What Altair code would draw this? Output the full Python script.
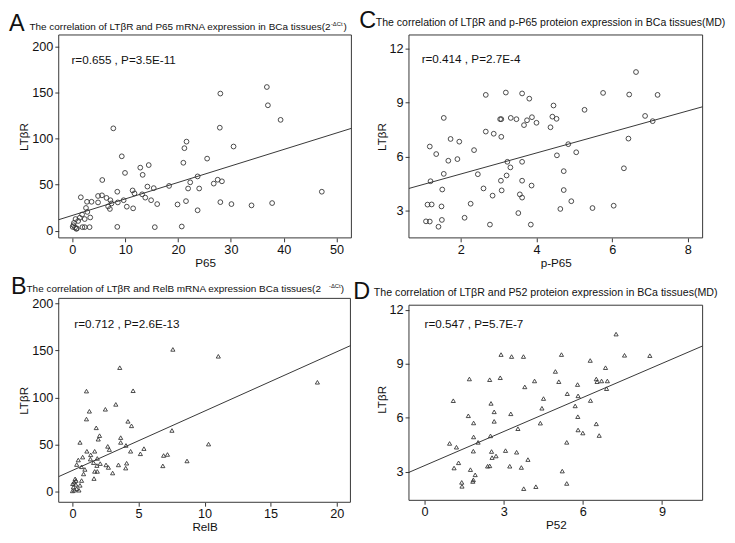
import altair as alt
import pandas as pd

# ---------------- Panel A: LTβR vs P65 mRNA ----------------
a_x = [36.8, 28.0, 37.0, 39.4, 7.75, 27.9, 21.6, 21.2, 30.5, 9.35, 25.5, 21.0, 12.85, 14.45, 9.96, 13.3,
       5.66, 23.7, 27.5, 28.3, 26.75, 22.3, 18.3, 14.2, 15.4, 21.9, 24.0, 47.2, 8.5, 11.4, 11.75, 13.2,
       1.6, 4.86, 5.6, 6.46, 7.2, 7.4, 13.8, 14.9, 16.05, 9.7, 8.6, 2.77, 3.63, 4.86, 6.77, 7.1, 10.3,
       11.5, 19.9, 21.5, 28.0, 30.1, 33.9, 37.8, 23.7, 2.58, 2.83, 1.84, 3.38, 1.41, 2.34, 0.6, 1.1,
       0.3, 0.2, 0.5, 0.86, 1.9, 2.34, 3.26, 8.5, 15.6, 20.7, 0.06, 0.74]
a_y = [155.8, 148.7, 136.0, 120.2, 111.0, 111.7, 96.6, 89.5, 91.3, 80.7, 78.2, 73.7, 68.4, 71.2, 62.7, 60.6,
       55.0, 58.9, 55.3, 53.6, 51.1, 52.5, 48.6, 47.9, 46.2, 45.8, 45.8, 42.3, 42.3, 43.7, 40.5, 39.5,
       36.3, 37.7, 38.4, 35.6, 33.1, 29.6, 35.9, 33.1, 28.9, 33.1, 30.7, 31.4, 31.4, 30.7, 26.4, 23.6, 26.1,
       24.3, 28.5, 32.1, 31.0, 28.9, 27.5, 30.0, 22.2, 24.7, 20.4, 17.6, 14.4, 14.1, 12.7, 12.7, 10.6,
       8.5, 6.0, 3.5, 2.5, 3.9, 3.9, 3.9, 4.2, 3.9, 4.6, 4.2, 2.1]
a_line_x = [-2.58, 52.8]
a_line_y = [12.0, 111.0]

# ---------------- Panel B: LTβR vs RelB mRNA ----------------
b_x = [7.6, 11.04, 18.54, 3.58, 1.06, 4.59, 3.28, 1.28, 2.49, 1.06, 4.2, 4.47, 7.53, 1.8, 2.05, 1.95,
       3.65, 3.65, 0.57, 10.3, 2.67, 2.79, 4.05, 4.4, 5.41, 5.14, 1.09, 1.68, 0.77, 1.38, 1.36, 1.88,
       0.44, 0.32, 0.69, 0.94, 0.84, 1.6, 2.1, 1.85, 2.54, 2.72, 1.68, 1.88, 3.04, 3.48, 4.1, 4.03,
       6.9, 7.19, 6.84, 8.67, 1.63, 0.69, 0.2, 0.12, 0.25, 0.07, 0.32, 0.49, 0.0, 0.15, 0.27, 0.57, 0.02]
b_y = [151.0, 143.7, 116.1, 131.6, 106.7, 107.1, 92.6, 85.3, 87.4, 77.0, 74.6, 69.8, 64.9, 67.7, 59.4, 55.6,
       57.3, 52.2, 52.2, 50.4, 48.0, 44.6, 49.0, 42.8, 45.6, 40.1, 42.8, 42.8, 36.6, 39.0, 34.5, 35.2,
       33.5, 28.7, 26.3, 23.5, 18.7, 30.7, 29.7, 27.6, 28.3, 25.6, 21.4, 21.4, 19.7, 28.3, 30.1, 24.9,
       38.3, 39.4, 27.3, 32.5, 13.8, 11.7, 13.5, 10.0, 7.6, 4.8, 3.1, 1.4, 0.7, 1.4, 11.7, 6.6, 8.3]
b_line_x = [-1.04, 21.04]
b_line_y = [15.9, 155.0]

# ---------------- Panel C: LTβR vs p-P65 protein ----------------
c_x = [6.63, 2.66, 3.19, 3.62, 3.81, 5.76, 6.45, 7.2, 4.45, 5.27, 1.55, 3.07, 3.04, 3.32, 3.47, 3.75,
       3.88, 3.67, 4.0, 4.42, 4.53, 4.37, 6.87, 7.07, 2.66, 2.87, 3.07, 1.73, 1.96, 1.18, 6.43, 4.84,
       2.35, 1.35, 5.05, 4.54, 1.67, 1.91, 3.23, 3.62, 3.31, 3.21, 1.55, 2.45, 4.72, 6.31, 1.2, 3.06,
       3.62, 3.87, 1.51, 2.6, 3.08, 3.56, 3.62, 2.84, 4.72, 4.92, 2.26, 1.12, 1.23, 1.49, 4.63, 5.48,
       6.04, 3.52, 2.1, 1.08, 1.18, 1.5, 1.41, 2.77, 3.85]
c_y = [10.70, 9.43, 9.56, 9.51, 9.22, 9.54, 9.45, 9.43, 8.84, 8.60, 8.15, 8.08, 8.08, 8.15, 8.08, 8.02,
       8.19, 7.75, 7.88, 8.22, 8.10, 7.63, 8.26, 7.97, 7.39, 7.27, 7.10, 6.98, 6.83, 6.56, 7.00, 6.69,
       6.36, 6.14, 6.24, 6.07, 5.77, 5.86, 5.71, 5.71, 5.40, 4.95, 5.04, 5.02, 5.19, 5.35, 4.63, 4.66,
       4.66, 4.39, 4.17, 4.23, 4.12, 3.90, 3.72, 3.83, 4.14, 3.52, 3.38, 3.33, 3.34, 3.23, 3.09, 3.14,
       3.27, 2.86, 2.60, 2.40, 2.39, 2.48, 2.10, 2.22, 2.22]
c_line_x = [0.63, 8.39]
c_line_y = [4.23, 8.77]

# ---------------- Panel D: LTβR vs P52 protein ----------------
d_x = [7.26, 2.9, 3.3, 3.75, 5.19, 7.58, 8.54, 6.28, 6.86, 4.96, 1.7, 2.47, 2.87, 4.17, 5.09, 5.8,
       6.51, 6.54, 6.71, 6.93, 6.9, 3.8, 5.41, 5.82, 6.29, 4.51, 1.09, 2.52, 5.71, 4.45, 2.64, 3.27,
       1.66, 5.81, 1.86, 2.64, 4.39, 6.51, 3.54, 5.82, 6.0, 6.62, 1.86, 2.5, 2.03, 0.95, 1.21, 5.39,
       1.85, 2.54, 3.07, 3.49, 2.56, 2.71, 3.92, 1.29, 1.12, 1.74, 1.92, 1.85, 1.83, 2.39, 2.47, 3.23,
       3.67, 5.22, 5.39, 1.41, 1.42, 3.76, 4.22]
d_y = [10.66, 9.52, 9.41, 9.41, 9.52, 9.48, 9.46, 9.19, 8.79, 8.58, 8.16, 8.12, 8.23, 8.05, 8.01, 7.85,
       8.16, 8.01, 8.05, 8.05, 7.62, 7.72, 7.34, 7.22, 6.96, 7.07, 6.95, 6.80, 6.66, 6.53, 6.33, 6.22,
       6.11, 6.06, 5.71, 5.80, 5.70, 5.66, 5.39, 5.32, 5.15, 5.01, 4.93, 4.99, 4.63, 4.57, 4.36, 4.63,
       4.14, 4.12, 4.17, 4.08, 3.78, 3.87, 3.67, 3.49, 3.20, 3.11, 2.82, 2.54, 2.45, 3.30, 3.32, 3.30,
       3.23, 3.03, 2.34, 2.40, 2.18, 2.05, 2.16]
d_line_x = [-0.59, 10.54]
d_line_y = [2.96, 10.0]

FONT = "Liberation Sans"
INK = "#333333"


def panel(xs, ys, lx, ly, xdom, ydom, xvals, yvals, xtitle, shape, w, h,
          letter, letter_pos, title_parts, ann, ann_pos, frame_top=0):
    pts = pd.DataFrame({"x": xs, "y": ys})
    ln = pd.DataFrame({"x": lx, "y": ly})
    xenc = alt.X("x:Q", scale=alt.Scale(domain=xdom, nice=False, zero=False),
                 axis=alt.Axis(values=xvals, title=xtitle))
    yenc = alt.Y("y:Q", scale=alt.Scale(domain=ydom, nice=False, zero=False),
                 axis=alt.Axis(values=yvals, title="LTβR"))
    points = alt.Chart(pts).mark_point(
        shape=shape, filled=False, size=24 if shape == "circle" else 18,
        color=INK, strokeWidth=0.9, opacity=1
    ).encode(x=xenc, y=yenc)
    line = alt.Chart(ln).mark_line(color=INK, strokeWidth=1).encode(x="x:Q", y="y:Q")
    layers = [points, line]

    # plot frame
    layers.append(alt.Chart(pd.DataFrame({"f": [0]})).mark_rect(
        fill="transparent", stroke=INK, strokeWidth=1
    ).encode(x=alt.value(0), x2=alt.value(w), y=alt.value(frame_top), y2=alt.value(h)))

    def txt(s, x, y, size):
        return alt.Chart(pd.DataFrame({"t": [s]})).mark_text(
            align="left", baseline="alphabetic", font=FONT, fontSize=size, color="#111"
        ).encode(x=alt.value(x), y=alt.value(y), text="t:N")

    layers.append(txt(ann, ann_pos[0], ann_pos[1], 12))
    layers.append(txt(letter, letter_pos[0], letter_pos[1], 24))
    for s, x, y, size in title_parts:
        layers.append(txt(s, x, y, size))
    return alt.layer(*layers).properties(width=w, height=h)


A = panel(a_x, a_y, a_line_x, a_line_y, [-2.58, 52.8], [-7.75, 212.2],
          [0, 10, 20, 30, 40, 50], [0, 50, 100, 150, 200], "P65", "circle", 300, 208,
          "A", (-51, -4),
          [("The correlation of LTβR and P65 mRNA expression in BCa tissues(2", -30, -5, 10.2),
           ("-ΔCt", 279, -9, 6),
           (")", 292, -5, 10.2)],
          "r=0.655 , P=3.5E-11", (13, 30))

C = panel(c_x, c_y, c_line_x, c_line_y, [0.63, 8.39], [1.48, 12.76],
          [2, 4, 6, 8], [3, 6, 9, 12], "p-P65", "circle", 301, 208,
          "C", (-51, -7),
          [("The correlation of LTβR and p-P65 proteion expression in BCa tissues(MD)", -34, -9, 10.8)],
          "r=0.414 , P=2.7E-4", (13, 29))

B = panel(b_x, b_y, b_line_x, b_line_y, [-1.04, 21.04], [-11.4, 205.2],
          [0, 5, 10, 15, 20], [0, 50, 100, 150, 200], "RelB", "triangle-up", 299, 209,
          "B", (-49, -5),
          [("The correlation of LTβR and RelB mRNA expression BCa tissues(2", -33, -7, 10.2),
           ("-ΔCt", 277, -11, 6),
           (")", 289, -7, 10.2)],
          "r=0.712 , P=2.6E-13", (16, 30))

# D's frame starts 7 px below the top of its cell (its box is shorter than B's)
D = panel(d_x, d_y, d_line_x, d_line_y, [-0.59, 10.54], [1.40, 12.65],
          [0, 3, 6, 9], [3, 6, 9, 12], "P52", "triangle-up", 301, 207,
          "D", (-57, 1),
          [("The correlation of LTβR and  P52  proteion expression in BCa tissues(MD)", -36, -2, 10.9)],
          "r=0.547 , P=5.7E-7", (16, 30), frame_top=7)

chart = alt.concat(
    A, C, B, D, columns=2, bounds="flush",
    spacing=alt.RowColnumber(row=62, column=59)
).properties(
    padding={"top": -6, "left": 0, "right": 0, "bottom": 0}, background="white"
).configure_view(
    stroke="transparent"
).configure_axis(
    grid=False, domain=False, ticks=True, tickSize=4, tickColor=INK, tickWidth=1,
    labelFont=FONT, labelFontSize=13, labelColor="#111", labelPadding=2,
    titleFont=FONT, titleFontSize=12, titleFontWeight="normal", titleColor="#111",
    titlePadding=1
)

chart.save("out.html", embed_options={"renderer": "svg", "actions": False})
